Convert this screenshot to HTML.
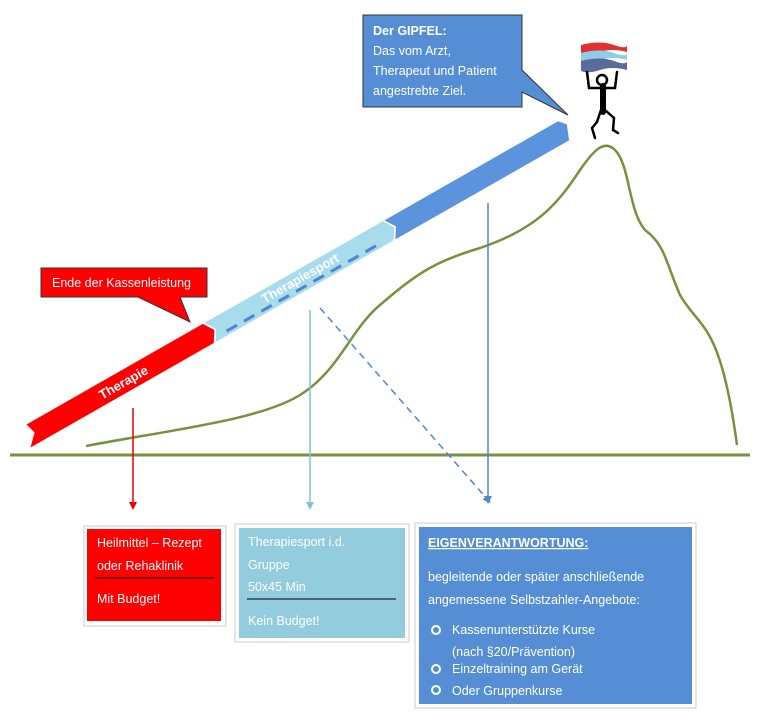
<!DOCTYPE html>
<html><head><meta charset="utf-8"><style>
body{margin:0;background:#fff;}
svg text{font-family:"Liberation Sans",sans-serif;}
</style></head><body>
<svg width="761" height="719" viewBox="0 0 761 719" xmlns="http://www.w3.org/2000/svg">
<defs>
<marker id="ar" markerWidth="8" markerHeight="8" refX="4" refY="4" orient="auto" markerUnits="userSpaceOnUse"><path d="M0,0 L8,4 L0,8 z" fill="#e00"/></marker>
<marker id="al" markerWidth="8" markerHeight="8" refX="4" refY="4" orient="auto" markerUnits="userSpaceOnUse"><path d="M0,0 L8,4 L0,8 z" fill="#7fc4d8"/></marker>
<marker id="ab" markerWidth="8" markerHeight="8" refX="4" refY="4" orient="auto" markerUnits="userSpaceOnUse"><path d="M0,0 L8,4 L0,8 z" fill="#4f86d0"/></marker>
</defs>
<line x1="10" y1="455" x2="750" y2="455" stroke="#76923c" stroke-width="3"/>
<path d="M86,446 C170,430 260,420 300,395 C340,370 350,330 380,305 C420,270 440,260 480,248 C540,228 560,200 580,170 C595,148 605,140 615,150 C630,165 628,210 645,230 C665,245 665,260 680,295 C700,330 720,320 737,445" fill="none" stroke="#76923c" stroke-width="2.5"/>
<line x1="133" y1="408" x2="133" y2="506" stroke="#e00" stroke-width="1.5" marker-end="url(#ar)"/>
<line x1="310" y1="310" x2="310" y2="506" stroke="#7fc4d8" stroke-width="1.5" marker-end="url(#al)"/>
<line x1="488" y1="203" x2="488" y2="500" stroke="#4f86d0" stroke-width="1.5" marker-end="url(#ab)"/>
<line x1="320" y1="308" x2="488" y2="500" stroke="#4f86d0" stroke-width="1.5" stroke-dasharray="7,5" marker-end="url(#ab)"/>
<g transform="translate(32,434) rotate(-29.7)">
<polygon points="0,-11 203,-11 210,0 203,11 -8,11 3,0" fill="#ff0000"/>
<polygon points="205,-11 410,-11 417,0 410,11 205,11 212,0" fill="#a6dcec"/>
<polygon points="412,-11 612,-11 618,-4 612,11 412,11 419,0" fill="#5b93dc"/>
<line x1="220" y1="7" x2="400" y2="7" stroke="#4f86d0" stroke-width="3" stroke-dasharray="12,8"/>
<text x="105" y="5" font-size="13" font-weight="bold" fill="#fff" text-anchor="middle">Therapie</text>
<text x="310" y="2" font-size="13" font-weight="bold" fill="#fff" text-anchor="middle">Therapiesport</text>
</g>
<path d="M41,268 H207 V297 H180 L190,322 L138,297 H41 Z" fill="#ff0000" stroke="#333" stroke-width="1"/>
<text x="52" y="287" font-size="12.5" fill="#fff">Ende der Kassenleistung</text>
<path d="M363,15 H522 V70 L568,115 L522,92 V107 H363 Z" fill="#558ed5" stroke="#333" stroke-width="1"/>
<text x="373" y="35" font-size="12.5" font-weight="bold" fill="#fff">Der GIPFEL:</text>
<text x="373" y="55" font-size="12.5" fill="#fff">Das vom Arzt,</text>
<text x="373" y="75" font-size="12.5" fill="#fff">Therapeut und Patient</text>
<text x="373" y="95" font-size="12.5" fill="#fff">angestrebte Ziel.</text>
<path d="M581,45 Q600,40 614,45 T627,44 V52 Q612,48 600,52 T581,53 Z" fill="#e23030"/>
<path d="M581,53 Q600,48 614,53 T627,52 V60 Q612,56 600,60 T581,61 Z" fill="#8fcde6"/>
<path d="M581,61 Q600,56 614,61 T627,60 V70 Q612,66 600,70 T581,71 Z" fill="#5a6a99"/>
<g stroke="#000" fill="none" stroke-linecap="round">
<circle cx="602" cy="80" r="5" stroke-width="2.5"/>
<path d="M587,72 L589,88 L615,88 L617,72" stroke-width="2.5"/>
<path d="M603,86 V112" stroke-width="6"/>
<path d="M601,110 L597,122 L592,128 L595,138" stroke-width="2.5"/>
<path d="M605,110 L614,118 L613,130 L618,133" stroke-width="2.5"/>
</g>
<rect x="84" y="526" width="142" height="100" fill="#fff" stroke="#ccc"/>
<rect x="87" y="529" width="134" height="92" fill="#ff0000"/>
<text x="97" y="547" font-size="12.5" fill="#fff">Heilmittel – Rezept</text>
<text x="97" y="570" font-size="12.5" fill="#fff">oder Rehaklinik</text>
<line x1="95" y1="578" x2="215" y2="578" stroke="#000"/>
<text x="97" y="603" font-size="12.5" fill="#fff">Mit Budget!</text>
<rect x="235" y="524" width="174" height="118" fill="#fff" stroke="#ccc"/>
<rect x="239" y="528" width="166" height="110" fill="#93cddd"/>
<text x="248" y="546" font-size="12.5" fill="#fff">Therapiesport i.d.</text>
<text x="248" y="569" font-size="12.5" fill="#fff">Gruppe</text>
<text x="248" y="591" font-size="12.5" fill="#fff">50x45 Min</text>
<line x1="247" y1="599" x2="396" y2="599" stroke="#000"/>
<text x="248" y="625" font-size="12.5" fill="#fff">Kein Budget!</text>
<rect x="415" y="523" width="281" height="185" fill="#fff" stroke="#ccc"/>
<rect x="419" y="527" width="273" height="177" fill="#558ed5"/>
<text x="428" y="547" font-size="12.5" font-weight="bold" fill="#fff" text-decoration="underline">EIGENVERANTWORTUNG:</text>
<text x="428" y="581" font-size="12.5" fill="#fff">begleitende oder später anschließende</text>
<text x="428" y="604" font-size="12.5" fill="#fff">angemessene Selbstzahler-Angebote:</text>
<g fill="none" stroke="#fff" stroke-width="2">
<circle cx="436" cy="630" r="4"/><circle cx="436" cy="669" r="4"/><circle cx="436" cy="690" r="4"/>
</g>
<text x="452" y="634" font-size="12.5" fill="#fff">Kassenunterstützte Kurse</text>
<text x="452" y="656" font-size="12.5" fill="#fff">(nach §20/Prävention)</text>
<text x="452" y="673" font-size="12.5" fill="#fff">Einzeltraining am Gerät</text>
<text x="452" y="695" font-size="12.5" fill="#fff">Oder Gruppenkurse</text>
</svg>
</body></html>
